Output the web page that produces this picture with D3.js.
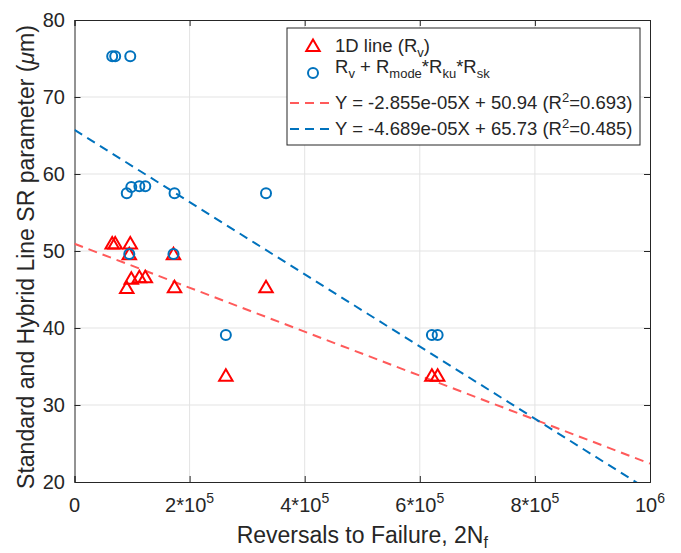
<!DOCTYPE html>
<html>
<head>
<meta charset="utf-8">
<script src="https://cdn.jsdelivr.net/npm/d3@7"></script>
<style>
  body { margin: 0; background: #fff; }
  text { font-family: "Liberation Sans", Arial, sans-serif; fill: #262626; }
</style>
</head>
<body>
<div id="chart"></div>
<script>
// data
const reversals = [65.5e3, 70.7e3, 96.9e3, 90.8e3, 98.7e3, 95.2e3, 112.7e3, 123e3, 173.8e3, 172e3, 263e3, 332.8e3, 621e3, 631e3];
const lineRv   = [51.0, 51.0, 51.0, 45.2, 46.4, 49.6, 46.6, 46.6, 45.3, 49.6, 33.8, 45.3, 33.8, 33.8];
const hybridRv = [75.3, 75.3, 75.3, 57.5, 58.3, 49.6, 58.4, 58.4, 57.5, 49.6, 39.1, 57.5, 39.1, 39.1];

// linear fits as given in the legend
const fitSlopes = [-2.855e-5, -4.689e-5];
const fitIntercepts = [50.94, 65.73];
const fitR2 = ["0.693", "0.485"];

const xTickValues = [0, 2e5, 4e5, 6e5, 8e5, 1e6];
const xTickBase = ["0", "2*10", "4*10", "6*10", "8*10", "10"];
const xTickExp = ["", "5", "5", "5", "5", "6"];
const yTickValues = [20, 30, 40, 50, 60, 70, 80];

// dimensions
const svgWidth = 681, svgHeight = 553;
const margin = {top: 20, right: 31, bottom: 71, left: 74.5};
const width = svgWidth - margin.left - margin.right;
const height = svgHeight - margin.top - margin.bottom;

const red = "#ff0000", blue = "#0072bd", redFit = "#ff5a5a";

let svg = d3.select("#chart")
  .append("svg")
  .attr("width", svgWidth)
  .attr("height", svgHeight)
  .style("background-color", "#fff");

let g = svg.append("g")
  .attr("transform", "translate(" + margin.left + "," + margin.top + ")");

var xScale = d3.scaleLinear().domain([0, 1e6]).range([0, width]);
var yScale = d3.scaleLinear().domain([20, 80]).range([height, 0]);

// grid
g.append("g").selectAll("line").data(xTickValues.slice(1, -1)).join("line")
  .attr("x1", d => xScale(d)).attr("x2", d => xScale(d))
  .attr("y1", 0).attr("y2", height)
  .attr("stroke", "#e3e3e3").attr("stroke-width", 1);
g.append("g").selectAll("line").data(yTickValues.slice(1, -1)).join("line")
  .attr("y1", d => yScale(d)).attr("y2", d => yScale(d))
  .attr("x1", 0).attr("x2", width)
  .attr("stroke", "#e3e3e3").attr("stroke-width", 1);

// axes, ticks pointing inwards (matlab style), box on
const tickLen = 6;
let xAxis = g.append("g")
  .attr("transform", "translate(0," + height + ")")
  .call(d3.axisBottom(xScale).tickValues(xTickValues).tickSize(-tickLen).tickFormat(""));
let xAxisTop = g.append("g")
  .call(d3.axisTop(xScale).tickValues(xTickValues).tickSize(-tickLen).tickFormat(""));
let yAxis = g.append("g")
  .call(d3.axisLeft(yScale).tickValues(yTickValues).tickSize(-tickLen).tickFormat(""));
let yAxisRight = g.append("g")
  .attr("transform", "translate(" + width + ",0)")
  .call(d3.axisRight(yScale).tickValues(yTickValues).tickSize(-tickLen).tickFormat(""));
g.selectAll(".domain").attr("stroke", "#262626").attr("stroke-width", 1);
g.selectAll(".tick line").attr("stroke", "#262626");

// tick labels
g.append("g").selectAll("text").data(yTickValues).join("text")
  .attr("x", -9.5)
  .attr("y", d => yScale(d))
  .attr("dy", "0.35em")
  .attr("text-anchor", "end")
  .style("font-size", "20px")
  .text(d => d);

let xLabels = g.append("g").selectAll("text").data(xTickValues).join("text")
  .attr("x", d => xScale(d))
  .attr("y", height + 30)
  .attr("text-anchor", "middle")
  .style("font-size", "20px");
xLabels.append("tspan").text((d, i) => xTickBase[i]);
xLabels.append("tspan").attr("dy", -9).style("font-size", "14px").text((d, i) => xTickExp[i]);

// axis titles
let xTitle = svg.append("text")
  .attr("x", margin.left + width / 2)
  .attr("y", 543)
  .attr("text-anchor", "middle")
  .style("font-size", "23px");
xTitle.append("tspan").text("Reversals to Failure, 2N");
xTitle.append("tspan").attr("dy", 5).style("font-size", "16px").text("f");

let yTitle = svg.append("text")
  .attr("transform", "translate(33.5,257) rotate(-90)")
  .attr("text-anchor", "middle")
  .style("font-size", "23px");
yTitle.append("tspan").text("Standard and Hybrid Line SR parameter (");
yTitle.append("tspan").style("font-style", "italic").text("\u03bc");
yTitle.append("tspan").text("m)");

// clip area for fit lines
svg.append("defs").append("clipPath").attr("id", "clip")
  .append("rect").attr("width", width).attr("height", height);

let fits = g.append("g").attr("clip-path", "url(#clip)");
[redFit, blue].forEach(function(col, i) {
  fits.append("path")
    .datum([0, 1e6])
    .attr("fill", "none")
    .attr("stroke", col)
    .attr("stroke-width", 2)
    .attr("stroke-dasharray", "9,6")
    .attr("d", d3.line()
      .x(d => xScale(d))
      .y(d => yScale(fitIntercepts[i] + fitSlopes[i] * d)));
});

// markers
function triangle(s) {
  return "M0," + (-s) + "L" + (s * 1.05) + "," + (s * 0.8) + "L" + (-s * 1.05) + "," + (s * 0.8) + "Z";
}

g.append("g").selectAll("path").data(reversals).join("path")
  .attr("d", triangle(6.4))
  .attr("transform", (d, i) => "translate(" + xScale(d) + "," + yScale(lineRv[i]) + ")")
  .attr("fill", "none")
  .attr("stroke", red)
  .attr("stroke-width", 2);

g.append("g").selectAll("circle").data(reversals).join("circle")
  .attr("cx", d => xScale(d))
  .attr("cy", (d, i) => yScale(hybridRv[i]))
  .attr("r", 5)
  .attr("fill", "none")
  .attr("stroke", blue)
  .attr("stroke-width", 2);

// legend
let legend = svg.append("g").attr("transform", "translate(287,28)");
legend.append("rect")
  .attr("width", 353).attr("height", 117)
  .attr("fill", "#fff").attr("stroke", "#262626").attr("stroke-width", 1);

const rowY = [18, 45, 75, 101];
const textX = 48;
const legendFont = "18.5px";

legend.append("path")
  .attr("d", triangle(6.4))
  .attr("transform", "translate(26," + rowY[0] + ")")
  .attr("fill", "none").attr("stroke", red).attr("stroke-width", 2);
let t1 = legend.append("text").attr("x", textX).attr("y", rowY[0]).attr("dy", "0.35em").style("font-size", legendFont);
t1.append("tspan").text("1D line (R");
t1.append("tspan").attr("dy", 5).style("font-size", "13px").text("v");
t1.append("tspan").attr("dy", -5).text(")");

legend.append("circle")
  .attr("cx", 26).attr("cy", rowY[1]).attr("r", 5)
  .attr("fill", "none").attr("stroke", blue).attr("stroke-width", 2);
let t2 = legend.append("text").attr("x", textX).attr("y", rowY[1]).attr("dy", "0.35em").style("font-size", legendFont);
[["R", ""], ["v", "sub"], [" + R", ""], ["mode", "sub"], ["*R", ""], ["ku", "sub"], ["*R", ""], ["sk", "sub"]]
  .forEach(function(p, i, arr) {
    let prevSub = i > 0 && arr[i - 1][1] === "sub";
    let dy = p[1] === "sub" ? 5 : (prevSub ? -5 : 0);
    t2.append("tspan").attr("dy", dy)
      .style("font-size", p[1] === "sub" ? "13px" : legendFont)
      .text(p[0]);
  });

[redFit, blue].forEach(function(col, i) {
  legend.append("line")
    .attr("x1", 3).attr("x2", 46)
    .attr("y1", rowY[2 + i]).attr("y2", rowY[2 + i])
    .attr("stroke", col).attr("stroke-width", 2).attr("stroke-dasharray", "9,6");
  let t = legend.append("text").attr("x", textX).attr("y", rowY[2 + i]).attr("dy", "0.35em").style("font-size", legendFont);
  t.append("tspan").text("Y = " + fitSlopes[i].toExponential(3).replace("e-5", "e-05") + "X + " + fitIntercepts[i].toFixed(2) + " (R");
  t.append("tspan").attr("dy", -7).style("font-size", "13px").text("2");
  t.append("tspan").attr("dy", 7).text("=" + fitR2[i] + ")");
});
</script>
</body>
</html>
